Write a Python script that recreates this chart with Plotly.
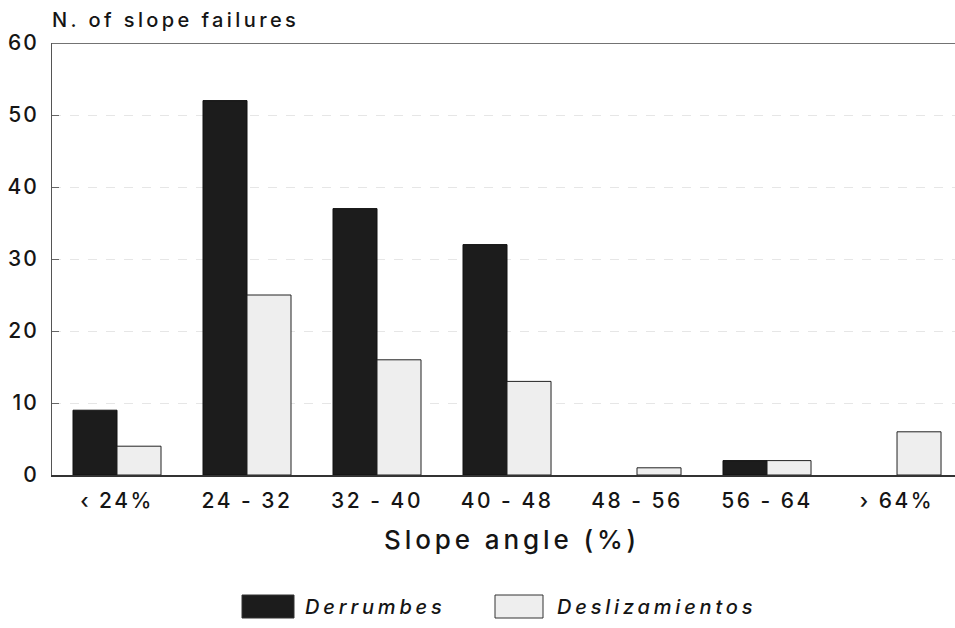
import plotly.graph_objects as go

# Slope failures by slope-angle class
categories = ["‹ 24%", "24 - 32", "32 - 40", "40 - 48", "48 - 56", "56 - 64", "› 64%"]
derrumbes = [9, 52, 37, 32, 0, 2, 0]
deslizamientos = [4, 25, 16, 13, 1, 2, 6]
series_names = ["Derrumbes", "Deslizamientos"]
y_ticks = [0, 10, 20, 30, 40, 50, 60]

FONT = "Inter"
WEIGHT = 500
INK = "#151515"
DARK = "#1c1c1c"
LIGHT = "#eeeeee"


def spaced(text, px):
    """Wrap text in a span with extra tracking, as in typewriter-style figures."""
    return f'<span style="letter-spacing:{px}px">{text}</span>'


def outline_widths(values):
    # no outline on empty bars, so nothing is drawn along the baseline
    return [1 if v else 0 for v in values]


fig = go.Figure()
fig.add_trace(go.Bar(
    x=categories, y=derrumbes, name=series_names[0],
    marker=dict(color=DARK, line=dict(color="#111111", width=outline_widths(derrumbes))),
    showlegend=False,
))
fig.add_trace(go.Bar(
    x=categories, y=deslizamientos, name=series_names[1],
    marker=dict(color=LIGHT, line=dict(color="#222222", width=outline_widths(deslizamientos))),
    showlegend=False,
))

fig.update_layout(
    width=955, height=628,
    margin=dict(l=52, r=0, t=43, b=153),
    paper_bgcolor="white", plot_bgcolor="white",
    barmode="group", bargap=0.323, bargroupgap=0,
    font=dict(family=FONT, color=INK, weight=WEIGHT),
    xaxis=dict(
        range=[-0.5, 6.446],
        tickvals=categories,
        ticktext=[spaced(c, 2.5) for c in categories],
        showline=True, linecolor="#333333", linewidth=1.5,
        ticks="", showgrid=False,
        tickfont=dict(size=21, family=FONT, color=INK, weight=WEIGHT),
        ticklabelstandoff=6,
    ),
    yaxis=dict(
        range=[0, 60], tickvals=y_ticks,
        ticktext=[spaced(str(v), 2) for v in y_ticks],
        showline=True, linecolor="#555555", linewidth=1,
        ticks="inside", ticklen=7, tickcolor="#666666",
        showgrid=True, gridcolor="#e6e6e6", griddash="dash", gridwidth=1,
        tickfont=dict(size=21, family=FONT, color=INK, weight=WEIGHT),
        ticklabelstandoff=8,
        zeroline=False,
    ),
)

# top border at 60
fig.add_shape(type="line", xref="paper", yref="y", x0=0, x1=1, y0=60, y1=60,
              line=dict(color="#444444", width=1.5))


def px_x(p):
    return (p - 52) / 903


def px_y(p):
    return (475 - p) / 432


# y axis caption above the plot
fig.add_annotation(text=spaced("N. of slope failures", 3.4), xref="paper", yref="paper",
                   x=px_x(50), y=px_y(20), xanchor="left", yanchor="middle",
                   showarrow=False, font=dict(size=20, family=FONT, color=INK, weight=WEIGHT))

# x axis title
fig.add_annotation(text=spaced("Slope angle (%)", 3.9), xref="paper", yref="paper",
                   x=px_x(382), y=px_y(539), xanchor="left", yanchor="middle",
                   showarrow=False, font=dict(size=26, family=FONT, color=INK, weight=WEIGHT))

# legend with wide swatches
legend_items = [
    (series_names[0], DARK, 242, 294, 303),
    (series_names[1], LIGHT, 495, 543, 555),
]
for name, color, bx0, bx1, tx in legend_items:
    fig.add_shape(type="rect", xref="paper", yref="paper",
                  x0=px_x(bx0), x1=px_x(bx1), y0=px_y(618), y1=px_y(595),
                  fillcolor=color, line=dict(color="#333333", width=1))
    fig.add_annotation(text=f"<i>{spaced(name, 3.8)}</i>", xref="paper", yref="paper",
                       x=px_x(tx), y=px_y(607), xanchor="left", yanchor="middle",
                       showarrow=False, font=dict(size=20, family=FONT, color=INK, weight=WEIGHT))

fig.write_html("out.html")
